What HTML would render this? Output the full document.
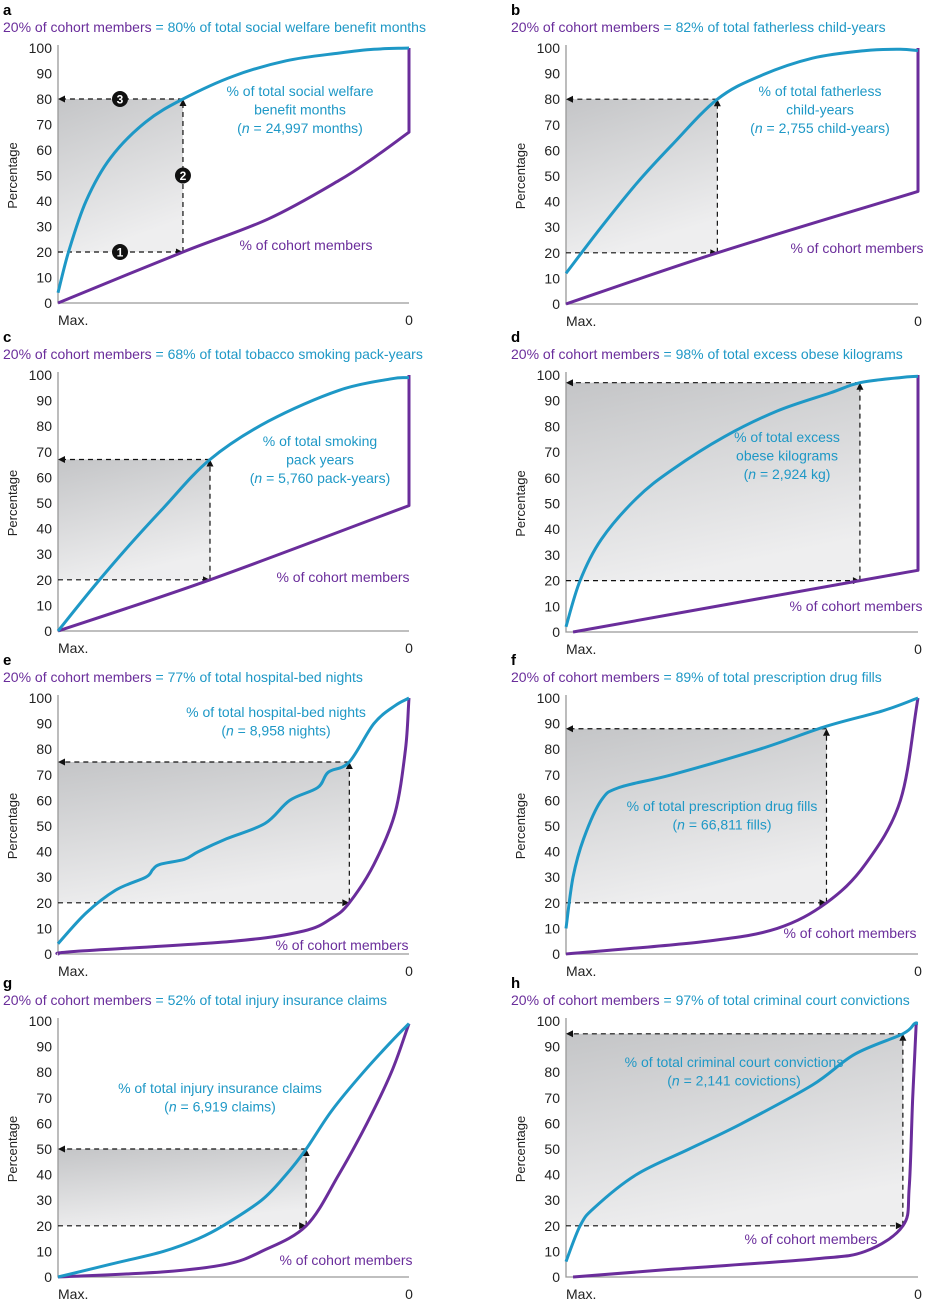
<!DOCTYPE html>
<html><head><meta charset="utf-8">
<style>
body{margin:0;background:#fff;}
svg{display:block;font-family:"Liberation Sans",sans-serif;}
</style></head>
<body>
<svg id="c" width="926" height="1301" viewBox="0 0 926 1301" xmlns="http://www.w3.org/2000/svg">
<defs>
<linearGradient id="g" x1="0" y1="0" x2="0.3" y2="1">
<stop offset="0" stop-color="#c4c5c7"/><stop offset="1" stop-color="#eeeeef"/>
</linearGradient>
</defs>
</svg>
<script>
const PURPLE="#6a2d9b", BLUE="#1e98c6";
const panelLetters=["a","b","c","d","e","f","g","h"];
const panelTopShares=[80,82,68,98,77,89,52,97];
const panelBoxTop=[80,80,67,97,75,88,50,95];
const panelCut=[0.356,0.43,0.433,0.835,0.83,0.74,0.707,0.957];
const panelTitles=["social welfare benefit months","fatherless child-years","tobacco smoking pack-years","excess obese kilograms","hospital-bed nights","prescription drug fills","injury insurance claims","criminal court convictions"];
const yTicks=[0,10,20,30,40,50,60,70,80,90,100];
const blueX=[
[0,0.03,0.08,0.15,0.25,0.356,0.5,0.65,0.8,0.9,1],
[0,0.1,0.2,0.3,0.43,0.55,0.7,0.85,0.95,1],
[0,0.1,0.2,0.3,0.433,0.6,0.8,0.95,1],
[0,0.04,0.1,0.2,0.3,0.45,0.6,0.75,0.835,0.95,1],
[0,0.08,0.165,0.25,0.27,0.29,0.36,0.4,0.48,0.59,0.66,0.74,0.77,0.83,0.9,0.96,1],
[0,0.02,0.05,0.1,0.15,0.3,0.55,0.74,0.9,1],
[0,0.15,0.3,0.4,0.47,0.58,0.65,0.707,0.78,0.87,0.95,1],
[0,0.04,0.08,0.2,0.35,0.5,0.7,0.82,0.957,0.99,1]];
const blueY=[
[4,20,40,57,71,80,89,95,98,99.5,100],
[12,30,47,62,80,89,96,99,99.5,99],
[0,17,33,48,67,82,94,98.5,99],
[2,20,36,52,63,76,86,93,97,99,99.5],
[4,16,25,30,33,35,37,40,45,51,60,65,71,75,90,97,100],
[10,30,45,60,65,70,80,89,95,100],
[0,5,10,15,20,30,40,50,65,80,92,99],
[6,20,27,40,50,60,75,87,95,99,99]];
const purpX=[
[0,0.356,0.6,0.8,0.9,1,1],
[0,0.43,1,1],
[0,0.433,1,1],
[0.02,0.835,1,1],
[0,0.05,0.5,0.7,0.78,0.83,0.9,0.96,0.99,1],
[0,0.4,0.6,0.74,0.85,0.95,1],
[0,0.3,0.48,0.58,0.707,0.8,0.88,0.95,1],
[0.02,0.3,0.7,0.85,0.957,0.975,0.985,0.995]];
const purpY=[
[0,20,33,48,57,67,100],
[0,20,44,100],
[0,20,49,100],
[0,20,24,100],
[0,1,5,9,14,20,35,55,80,100],
[0,5,10,20,35,60,100],
[0,2,5,10,20,40,60,80,99],
[0,3,7,10,20,35,70,99]];
const blueLabels=[["% of total social welfare","benefit months","(n = 24,997 months)"],["% of total fatherless","child-years","(n = 2,755 child-years)"],["% of total smoking","pack years","(n = 5,760 pack-years)"],["% of total excess","obese kilograms","(n = 2,924 kg)"],["% of total hospital-bed nights","(n = 8,958 nights)"],["% of total prescription drug fills","(n = 66,811 fills)"],["% of total injury insurance claims","(n = 6,919 claims)"],["% of total criminal court convictions","(n = 2,141 covictions)"]];
const blueLabelPos=[[300,96],[820,96],[320,446],[787,442],[276,717],[722,811],[220,1093],[734,1067]];
const purpLabelPos=[[306,250],[857,253],[343,582],[856,611],[342,950],[850,938],[346,1265],[811,1244]];
const geo=[[58,409,48,303],[566,918,48,304],[58,409,375,631],[566,918,375,632],[58,409,698,954],[566,918,698,954],[58,409,1021,1277],[566,918,1021,1277]];

const svg=document.getElementById('c');
const NS="http://www.w3.org/2000/svg";
function mk(tag,attrs,parent){const e=document.createElementNS(NS,tag);for(const k in attrs)e.setAttribute(k,attrs[k]);(parent||svg).appendChild(e);return e;}
function txt(s,attrs,parent){const t=mk('text',attrs,parent);t.textContent=s;return t;}

function smoothPath(pts){
  let d="M"+pts[0][0]+","+pts[0][1];
  for(let i=0;i<pts.length-1;i++){
    const p0=pts[i-1]||pts[i],p1=pts[i],p2=pts[i+1],p3=pts[i+2]||p2;
    const vert=(p1[0]===p2[0]);
    if(vert){d+=" L"+p2[0]+","+p2[1];continue;}
    const c1=[p1[0]+(p2[0]-p0[0])/6,p1[1]+(p2[1]-p0[1])/6];
    const c2=[p2[0]-(p3[0]-p1[0])/6,p2[1]-(p3[1]-p1[1])/6];
    if(p3[0]===p2[0]){c2[0]=p2[0]-(p2[0]-p1[0])/3;c2[1]=p2[1]-(p2[1]-p1[1])/3;}
    d+=" C"+c1[0].toFixed(1)+","+c1[1].toFixed(1)+" "+c2[0].toFixed(1)+","+c2[1].toFixed(1)+" "+p2[0].toFixed(1)+","+p2[1].toFixed(1);
  }
  return d;
}

for(let p=0;p<8;p++){
  const [x0,x1,y100,y0]=geo[p];
  const sx=f=>x0+f*(x1-x0);
  const sy=v=>y0-v*(y0-y100)/100;
  const left=(p%2===0)?3:511;
  const g=mk('g',{});
  
  
  const L=txt(panelLetters[p],{x:left,y:y100-33,'font-size':15,'font-weight':'bold',fill:'#000'},g);
  
  
  const T=txt('',{x:left,y:y100-16,'font-size':14},g);
  
  
  const s1=mk('tspan',{fill:PURPLE},T);s1.textContent="20% of cohort members";
  const s2=mk('tspan',{fill:BLUE},T);s2.textContent=" = "+panelTopShares[p]+"% of total "+panelTitles[p];
  const cx=sx(panelCut[p]),top=sy(panelBoxTop[p]),y20=sy(20);
  const r=mk('rect',{x:x0,y:top,width:cx-x0,height:y20-top,fill:'url(#g)'},g);
  
  
  const ax=mk('path',{d:`M${x0},${y100-3} V${y0} H${x1}`,stroke:'#999',fill:'none','stroke-width':1.3},g);
  
  
  for(const t of yTicks){
    const tl=txt(String(t),{x:x0-6,y:sy(t)+5,'font-size':14,'text-anchor':'end',fill:'#222'},g);
    
    
  }
  const yt=txt('Percentage',{x:0,y:0,'font-size':13,'text-anchor':'middle',fill:'#222',transform:`translate(${left+14},${(y0+y100)/2}) rotate(-90)`},g);
  
  
  const mx=txt('Max.',{x:x0,y:y0+22,'font-size':14,fill:'#222'},g);
  
  
  const zr=txt('0',{x:x1,y:y0+22,'font-size':14,'text-anchor':'middle',fill:'#222'},g);
  
  
  const dd=mk('path',{d:`M${x0},${y20} H${cx-4} M${cx},${y20} V${top+4} M${cx},${top} H${x0+4}`,stroke:'#111','stroke-width':1.2,fill:'none','stroke-dasharray':'5,4'},g);
  
  
  const ar=mk('path',{d:`M${cx},${y20} l-7,-3.5 v7z M${cx},${top} l-3.5,7 h7z M${x0},${top} l7,-3.5 v7z`,fill:'#111'},g);
  
  
  const pp=purpX[p].map((f,i)=>[sx(f),sy(purpY[p][i])]);
  const pl=mk('path',{d:smoothPath(pp),stroke:PURPLE,'stroke-width':3,fill:'none','stroke-linejoin':'round'},g);
  
  
  const bp=blueX[p].map((f,i)=>[sx(f),sy(blueY[p][i])]);
  const bl=mk('path',{d:smoothPath(bp),stroke:BLUE,'stroke-width':3,fill:'none','stroke-linejoin':'round'},g);
  
  
  const [bx,by]=blueLabelPos[p];
  blueLabels[p].forEach((s,i)=>{
    const t=txt('',{x:bx,y:by+i*18.5,'font-size':14,'text-anchor':'middle',fill:BLUE},g);
    
    
    if(s.startsWith('(n')){
      const a=mk('tspan',{},t);a.textContent='(';
      const b=mk('tspan',{'font-style':'italic'},t);b.textContent='n';
      const c=mk('tspan',{},t);c.textContent=s.slice(2);
    } else t.textContent=s;
  });
  const [qx,qy]=purpLabelPos[p];
  const pt=txt('% of cohort members',{x:qx,y:qy,'font-size':14,'text-anchor':'middle',fill:PURPLE},g);
  
  
  if(p===0){
    [[120,y20,'1'],[cx,sy(50),'2'],[120,top,'3']].forEach(([x,y,n])=>{
      const c=mk('circle',{cx:x,cy:y,r:8,fill:'#111'},g);
      
      
      const t=txt(n,{x:x,y:y+4.5,'font-size':12,'font-weight':'bold','text-anchor':'middle',fill:'#fff'},g);
      
      
    });
  }
}
</script>
</body></html>
